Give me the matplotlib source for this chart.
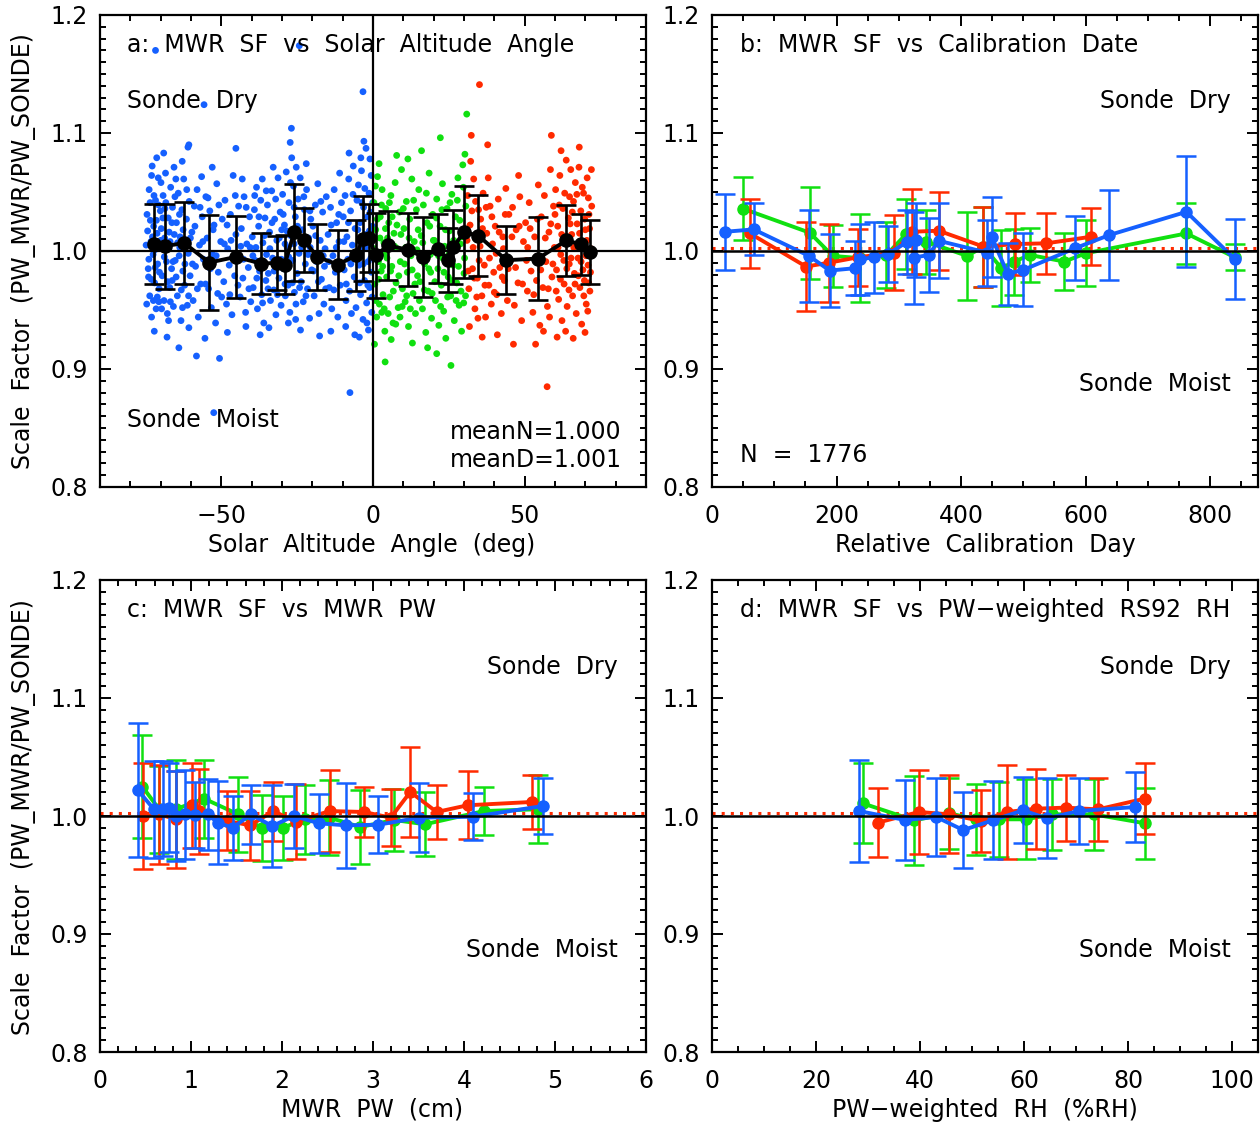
import numpy as np
import matplotlib
matplotlib.use("Agg")
import matplotlib.pyplot as plt
from matplotlib.ticker import MultipleLocator, FormatStrFormatter

plt.rcParams['font.family'] = ['DejaVu Sans']
plt.rcParams['font.size'] = 17

BLUE = '#1560FF'
GREEN = '#10E010'
RED = '#FF2A00'

# ---------------- panel a: scatter (thinned) ----------------
blue_pts = [
    (-74.5, 1.031), (-74.1, 0.985), (-73.8, 1.052), (-73.6, 0.962), (-73.2, 1.008), (-73.0, 0.944),
    (-72.8, 1.072), (-72.5, 0.997), (-72.3, 1.021), (-72.0, 0.973), (-71.7, 1.043), (-71.5, 0.951),
    (-71.2, 1.015), (-71.0, 0.989), (-70.8, 1.062), (-70.5, 0.968), (-70.3, 1.003), (-70.1, 1.034),
    (-74.8, 1.005), (-73.4, 1.026), (-72.1, 0.932), (-71.3, 1.079), (-70.6, 0.957), (-74.0, 0.978),
    (-71.9, 1.001),
    (-69.8, 1.019), (-69.5, 0.979), (-69.2, 1.047), (-68.9, 0.958), (-68.7, 1.011), (-68.4, 1.066),
    (-68.1, 0.991), (-67.8, 0.947), (-67.5, 1.028), (-67.3, 1.002), (-67.0, 0.969), (-66.7, 1.054),
    (-66.4, 0.985), (-66.1, 1.037), (-65.8, 0.953), (-65.5, 1.014), (-65.2, 0.992), (-69.0, 1.083),
    (-67.9, 0.927), (-66.9, 1.008), (-65.6, 1.071), (-68.6, 1.036), (-66.2, 0.975),
    (-64.8, 1.024), (-64.5, 0.962), (-64.2, 1.049), (-63.9, 0.996), (-63.6, 1.012), (-63.3, 0.941),
    (-63.0, 1.035), (-62.7, 0.983), (-62.4, 1.061), (-62.1, 0.971), (-61.8, 1.006), (-61.5, 1.027),
    (-61.2, 0.954), (-60.9, 0.998), (-60.6, 1.042), (-60.3, 0.979), (-64.0, 0.918), (-62.9, 1.076),
    (-61.0, 1.088), (-63.7, 1.003), (-60.7, 0.935),
    (-74.3, 1.017), (-73.9, 0.993), (-73.5, 1.041), (-73.1, 0.976), (-72.7, 1.012), (-72.4, 0.958),
    (-72.2, 1.047), (-71.8, 0.986), (-71.4, 1.026), (-71.1, 0.961), (-70.7, 1.039), (-70.4, 0.982),
    (-70.0, 1.009), (-69.7, 0.951), (-69.3, 1.028), (-68.8, 0.995), (-68.3, 1.041), (-67.7, 0.974),
    (-67.2, 1.016), (-66.8, 0.957), (-66.3, 1.024), (-65.9, 0.991), (-65.3, 1.046), (-64.9, 0.978),
    (-64.4, 1.007), (-63.8, 1.031), (-63.2, 0.967), (-62.6, 1.018), (-62.0, 0.989), (-61.4, 1.052),
    (-60.8, 0.962), (-60.2, 1.011), (-74.6, 0.955), (-73.0, 1.064), (-69.9, 1.058), (-67.4, 0.941),
    (-65.0, 1.061), (-62.8, 0.952),
    (-71.7, 1.170), (-55.7, 1.124), (-52.5, 0.863), (-24.3, 1.174), (-3.3, 1.135), (-7.6, 0.880),
    (-26.9, 1.104), (-60.7, 1.090), (-45.2, 1.087),
    (-59.7, 1.016), (-59.3, 0.958), (-58.9, 1.038), (-58.5, 0.987), (-58.0, 1.052), (-57.6, 0.944),
    (-57.2, 1.005), (-56.8, 0.972), (-56.3, 1.029), (-55.9, 0.993), (-55.4, 0.926), (-55.1, 1.046),
    (-58.2, 0.911), (-56.5, 1.063),
    (-54.7, 1.011), (-54.2, 0.968), (-53.8, 1.034), (-53.3, 0.952), (-52.9, 0.997), (-52.4, 1.022),
    (-51.9, 0.939), (-51.5, 1.057), (-51.0, 0.982), (-50.6, 0.909), (-50.2, 1.008), (-53.0, 1.071),
    (-51.2, 0.964),
    (-49.7, 1.027), (-49.2, 0.974), (-48.8, 1.043), (-48.3, 0.955), (-47.9, 1.002), (-47.4, 0.988),
    (-47.0, 1.031), (-46.5, 0.946), (-46.1, 1.064), (-45.6, 0.979), (-45.2, 1.014), (-48.0, 0.931),
    (-46.8, 1.009),
    (-44.7, 0.993), (-44.3, 1.038), (-43.8, 0.961), (-43.4, 1.019), (-42.9, 0.977), (-42.5, 1.046),
    (-42.0, 0.948), (-41.6, 1.006), (-41.1, 0.986), (-40.7, 1.029), (-40.3, 0.957), (-43.1, 1.061),
    (-41.9, 0.936), (-40.5, 1.003),
    (-59.5, 0.989), (-58.7, 1.021), (-57.9, 0.968), (-57.0, 1.037), (-56.1, 1.008), (-55.2, 0.972),
    (-54.4, 1.045), (-53.6, 0.985), (-52.7, 1.018), (-51.7, 0.996), (-50.8, 1.039), (-49.9, 0.961),
    (-49.0, 1.006), (-48.1, 1.022), (-47.2, 0.963), (-46.3, 0.994), (-45.4, 1.047), (-44.5, 0.971),
    (-43.6, 1.004), (-42.7, 0.993), (-41.8, 1.037), (-40.9, 0.968),
    (-39.8, 1.012), (-39.5, 0.969), (-39.1, 1.035), (-38.8, 0.992), (-38.4, 1.054), (-38.1, 0.951),
    (-37.7, 1.021), (-37.4, 0.983), (-37.0, 1.043), (-36.7, 0.963), (-36.3, 1.007), (-36.0, 0.939),
    (-35.6, 1.028), (-35.3, 0.975), (-38.6, 1.003), (-37.2, 0.929), (-36.5, 1.061), (-35.1, 0.997),
    (-34.8, 1.039), (-34.5, 0.981), (-34.1, 1.016), (-33.8, 0.958), (-33.4, 1.051), (-33.1, 0.994),
    (-32.7, 0.967), (-32.4, 1.027), (-32.0, 0.946), (-31.7, 1.009), (-31.3, 1.062), (-31.0, 0.977),
    (-30.6, 1.033), (-30.3, 0.954), (-34.3, 0.935), (-32.9, 1.071), (-31.5, 0.989), (-30.1, 1.018),
    (-29.8, 1.048), (-29.5, 0.985), (-29.2, 1.022), (-28.9, 0.962), (-28.6, 1.067), (-28.3, 1.003),
    (-28.0, 0.971), (-27.7, 1.041), (-27.4, 0.948), (-27.1, 1.013), (-26.8, 1.079), (-26.5, 0.992),
    (-26.2, 1.055), (-25.9, 0.965), (-25.6, 1.029), (-25.3, 1.071), (-25.0, 0.981), (-29.0, 1.006),
    (-27.9, 0.939), (-26.0, 1.037), (-27.3, 1.092), (-25.4, 0.955),
    (-39.6, 0.996), (-39.0, 1.047), (-38.3, 0.977), (-37.6, 1.029), (-37.0, 0.991), (-36.4, 0.956),
    (-35.8, 1.013), (-35.2, 1.051), (-34.6, 0.968), (-34.0, 1.002), (-33.3, 1.024), (-32.6, 0.983),
    (-32.1, 1.044), (-31.5, 0.963), (-30.9, 1.011), (-30.2, 0.993), (-29.6, 1.031), (-29.0, 0.972),
    (-28.4, 1.017), (-27.8, 0.995), (-27.2, 1.058), (-26.6, 0.973), (-26.0, 1.006), (-25.5, 0.942),
    (-24.9, 1.021), (-24.2, 0.969), (-23.5, 1.003), (-22.8, 1.046), (-22.1, 0.962), (-21.4, 0.997),
    (-20.8, 1.034),
    (-24.7, 1.044), (-24.4, 0.998), (-24.0, 1.062), (-23.7, 0.974), (-23.3, 1.018), (-23.0, 0.957),
    (-22.6, 1.035), (-22.3, 0.989), (-21.9, 1.052), (-21.6, 0.968), (-21.2, 1.011), (-20.9, 0.943),
    (-20.5, 1.027), (-20.2, 0.984), (-23.9, 0.933), (-22.0, 1.074), (-20.7, 1.003),
    (-19.8, 1.021), (-19.4, 0.962), (-19.0, 1.039), (-18.6, 0.991), (-18.2, 1.057), (-17.8, 0.947),
    (-17.4, 1.009), (-17.0, 0.976), (-16.6, 1.033), (-16.2, 0.955), (-15.8, 1.002), (-15.4, 1.046),
    (-17.6, 0.928), (-16.0, 0.987),
    (-14.8, 1.014), (-14.4, 0.969), (-14.0, 1.037), (-13.6, 0.951), (-13.2, 0.996), (-12.8, 1.052),
    (-12.4, 0.982), (-12.0, 1.024), (-11.6, 0.944), (-11.2, 1.008), (-10.8, 0.971), (-10.4, 1.041),
    (-13.9, 0.932), (-11.0, 1.066),
    (-9.8, 1.029), (-9.5, 0.984), (-9.2, 1.047), (-8.9, 0.958), (-8.6, 1.012), (-8.3, 0.993),
    (-8.0, 1.061), (-7.7, 0.966), (-7.4, 1.034), (-7.1, 0.947), (-6.8, 1.005), (-6.5, 1.072),
    (-6.2, 0.978), (-5.9, 1.019), (-5.6, 0.952), (-5.3, 1.043), (-9.0, 0.936), (-7.9, 1.083),
    (-6.0, 0.929), (-5.2, 0.998),
    (-4.8, 1.056), (-4.6, 0.988), (-4.3, 1.024), (-4.1, 0.963), (-3.8, 1.068), (-3.6, 1.001),
    (-3.3, 0.942), (-3.1, 1.037), (-2.8, 0.975), (-2.6, 1.014), (-2.3, 1.087), (-2.1, 0.956),
    (-1.8, 1.029), (-1.6, 0.991), (-1.3, 1.049), (-1.1, 0.969), (-0.8, 1.007), (-0.6, 1.064),
    (-0.4, 0.948), (-0.2, 1.021), (-4.5, 0.927), (-3.0, 1.093), (-1.5, 0.933), (-0.5, 0.982),
    (-2.5, 1.003), (-1.0, 1.078), (-3.9, 1.011), (-0.3, 0.961),
    (-19.6, 0.983), (-18.9, 1.013), (-18.0, 0.974), (-17.2, 1.042), (-16.4, 0.996), (-15.6, 0.968),
    (-14.6, 0.991), (-13.8, 1.022), (-12.9, 0.967), (-12.1, 1.003), (-11.3, 1.031), (-10.5, 0.989),
    (-9.6, 1.008), (-8.8, 0.972), (-8.1, 1.024), (-7.3, 0.989), (-6.6, 1.048), (-5.8, 0.996),
    (-5.0, 1.018), (-4.4, 0.973), (-3.7, 1.041), (-3.2, 0.989), (-2.7, 1.053), (-2.2, 1.009),
    (-1.7, 0.971), (-1.2, 1.017), (-0.7, 0.994), (-0.1, 1.041), (-4.0, 1.079), (-2.0, 0.939),
    (-0.9, 1.033),
]

green_pts = [
    (0.3, 1.041), (0.6, 0.972), (0.9, 1.018), (1.2, 0.944), (1.5, 1.063), (1.8, 0.991), (2.1, 0.955),
    (2.4, 1.029), (2.7, 0.983), (3.0, 1.052), (3.3, 0.963), (3.6, 1.007), (3.9, 0.932), (4.2, 1.036),
    (4.5, 0.978), (4.8, 1.011), (0.5, 0.921), (2.0, 1.074), (4.0, 0.906), (3.8, 0.998), (1.0, 0.996),
    (0.8, 1.055), (2.9, 0.948),
    (5.2, 1.024), (5.5, 0.961), (5.9, 1.047), (6.2, 0.987), (6.6, 0.939), (6.9, 1.015), (7.3, 1.058),
    (7.6, 0.973), (8.0, 1.002), (8.3, 0.952), (8.7, 1.033), (9.0, 0.991), (9.4, 1.069), (9.7, 0.968),
    (6.0, 0.925), (7.8, 1.081), (8.9, 0.944), (5.7, 1.003),
    (10.2, 1.019), (10.6, 0.957), (11.0, 1.042), (11.3, 0.982), (11.7, 0.936), (12.1, 1.027),
    (12.5, 0.996), (12.8, 1.061), (13.2, 0.964), (13.6, 1.008), (14.0, 0.947), (14.3, 1.035),
    (14.7, 0.979), (11.5, 1.078), (13.0, 0.922), (14.5, 1.001), (10.8, 1.003),
    (15.1, 1.052), (15.5, 0.974), (15.9, 1.013), (16.3, 0.951), (16.6, 1.039), (17.0, 0.989),
    (17.4, 0.931), (17.8, 1.024), (18.2, 0.966), (18.5, 1.066), (18.9, 0.997), (19.3, 0.943),
    (19.7, 1.031), (16.0, 1.085), (18.0, 0.918), (19.0, 0.982),
    (20.2, 1.009), (20.6, 0.958), (21.0, 1.044), (21.4, 0.985), (21.7, 0.937), (22.1, 1.021),
    (22.5, 0.971), (22.9, 1.057), (23.3, 0.949), (23.6, 1.004), (24.0, 0.926), (24.4, 1.036),
    (24.8, 0.978), (22.2, 1.096), (25.7, 0.903), (21.0, 0.913), (23.0, 0.994),
    (25.2, 1.017), (25.6, 0.962), (26.0, 1.048), (26.4, 0.988), (26.8, 0.941), (27.2, 1.029),
    (27.6, 0.973), (28.0, 1.062), (28.4, 0.954), (28.8, 1.006), (29.2, 0.932), (29.6, 1.073),
    (30.0, 0.981), (30.3, 1.082), (30.6, 1.038), (30.9, 1.116), (29.9, 0.956), (27.0, 1.003),
    (0.4, 1.002), (0.9, 0.958), (1.4, 1.027), (1.9, 0.976), (2.3, 1.011), (2.8, 1.039), (3.2, 0.987),
    (3.7, 0.951), (4.1, 1.019), (4.6, 0.994), (5.0, 0.947), (5.4, 1.041), (5.8, 0.983), (6.3, 1.029),
    (6.7, 0.966), (7.1, 1.004), (7.5, 0.938), (7.9, 1.022), (8.5, 0.979), (9.2, 1.014), (9.6, 0.953),
    (10.0, 1.036), (10.4, 0.989), (11.1, 0.962), (11.9, 1.011), (12.3, 0.951), (12.9, 0.984),
    (13.4, 1.043), (13.8, 0.972), (14.9, 1.018), (15.3, 0.958), (15.7, 0.994), (16.4, 1.007),
    (16.9, 0.967), (17.6, 1.049), (18.4, 0.985), (18.7, 1.021), (19.5, 0.964), (19.9, 1.009),
    (20.4, 0.974), (20.9, 1.028), (21.6, 0.996), (22.3, 0.953), (22.7, 1.035), (23.4, 0.982),
    (23.9, 1.018), (24.6, 0.961), (25.0, 0.997), (25.4, 1.041), (26.2, 0.975), (26.6, 1.009),
    (27.4, 0.958), (27.8, 1.043), (28.2, 0.987), (28.6, 1.026), (29.0, 0.966), (29.4, 1.012),
    (29.8, 1.054), (30.2, 0.994), (30.5, 0.962),
]

red_pts = [
    (31.2, 1.047), (31.6, 0.968), (32.0, 1.022), (32.4, 1.098), (32.8, 0.985), (33.2, 1.061),
    (33.6, 0.951), (34.0, 1.013), (34.4, 0.977), (34.8, 1.035), (35.1, 1.141), (31.8, 0.936),
    (33.0, 1.003), (34.6, 0.943), (32.2, 1.076), (35.0, 0.992),
    (35.5, 1.027), (35.9, 0.962), (36.3, 1.049), (36.7, 0.988), (37.1, 0.944), (37.5, 1.015),
    (37.8, 1.090), (38.2, 0.971), (38.6, 1.038), (39.0, 0.955), (39.4, 1.006), (39.8, 0.982),
    (36.0, 0.927), (38.0, 1.062),
    (40.3, 1.021), (40.8, 0.963), (41.3, 1.044), (41.8, 0.986), (42.3, 0.947), (42.8, 1.012),
    (43.3, 0.975), (43.8, 1.053), (44.3, 0.958), (44.8, 1.031), (41.0, 0.929), (43.0, 1.002),
    (45.4, 0.992), (46.0, 1.037), (46.6, 0.954), (47.2, 1.018), (47.8, 0.973), (48.4, 1.046),
    (49.0, 0.941), (49.6, 1.008), (46.3, 0.921), (48.0, 1.064),
    (50.3, 1.024), (50.9, 0.966), (51.5, 1.041), (52.1, 0.983), (52.7, 0.948), (53.3, 1.012),
    (53.9, 0.975), (54.5, 1.056), (55.0, 0.937), (57.4, 0.885), (51.0, 1.003), (53.6, 0.921),
    (55.5, 1.029), (56.0, 0.969), (56.5, 1.047), (57.0, 0.991), (57.5, 0.953), (58.0, 1.016),
    (58.5, 1.069), (58.8, 1.098), (59.0, 0.978), (59.5, 1.038), (56.2, 0.932), (58.2, 0.944),
    (59.8, 1.003),
    (60.2, 1.052), (60.5, 0.984), (60.9, 1.021), (61.2, 0.959), (61.6, 1.064), (61.9, 0.997),
    (62.3, 0.941), (62.6, 1.036), (63.0, 0.972), (63.3, 1.009), (63.7, 1.077), (64.0, 0.953),
    (64.4, 1.028), (64.7, 0.989), (65.2, 1.069), (60.7, 0.927), (62.0, 1.085), (63.5, 0.932),
    (64.8, 1.046),
    (65.5, 1.014), (65.8, 0.962), (66.1, 1.042), (66.4, 0.981), (66.7, 1.058), (67.0, 0.947),
    (67.3, 1.023), (67.6, 0.994), (67.9, 1.071), (68.2, 0.969), (68.5, 1.034), (68.8, 0.938),
    (69.1, 1.006), (69.4, 1.049), (69.7, 0.975), (70.0, 1.018), (70.3, 0.955), (70.6, 1.062),
    (70.9, 0.988), (71.2, 1.031), (71.5, 0.966), (71.8, 1.002), (72.0, 1.069), (66.0, 0.926),
    (68.0, 1.088), (69.9, 0.931), (71.0, 1.045), (67.1, 1.005), (69.2, 0.984), (70.8, 0.949),
    (31.0, 1.009), (31.4, 0.983), (32.6, 1.034), (33.4, 0.977), (33.8, 1.042), (34.2, 0.961),
    (35.3, 1.004), (36.1, 1.019), (36.9, 0.971), (37.3, 1.037), (38.4, 0.994), (39.2, 1.029),
    (40.0, 0.965), (40.6, 0.998), (41.6, 1.016), (42.6, 0.978), (43.6, 1.031), (44.6, 0.985),
    (45.8, 1.012), (47.0, 0.986), (48.2, 1.021), (49.3, 0.972), (50.6, 0.992), (51.8, 1.019),
    (53.0, 0.963), (54.2, 1.027), (55.3, 0.984), (56.8, 1.011), (57.8, 0.968), (58.6, 1.023),
    (59.3, 0.989), (60.0, 1.031), (60.4, 0.966), (61.0, 1.003), (61.4, 1.039), (61.8, 0.976),
    (62.2, 1.014), (62.9, 0.992), (63.2, 1.049), (63.9, 0.985), (64.2, 1.011), (64.6, 0.967),
    (65.0, 1.023), (65.3, 0.994), (65.7, 1.033), (66.2, 1.003), (66.6, 0.972), (67.2, 1.048),
    (67.7, 0.979), (68.1, 1.015), (68.6, 0.991), (69.0, 1.054), (69.5, 0.962), (69.8, 1.027),
    (70.2, 0.996), (70.5, 1.009), (71.1, 0.973), (71.4, 1.019), (71.7, 0.982), (72.1, 1.038),
]

# panel a: binned means (black)
sza_bin = [-72.3, -68.6, -62.2, -54.0, -45.2, -36.9, -31.6, -29.1, -26.0, -22.9, -18.3, -11.6,
           -5.5, -3.4, -1.4, 0.9, 5.0, 11.4, 16.6, 21.5, 24.8, 26.5, 30.0, 34.7, 44.0, 54.4,
           63.7, 68.7, 71.5]
sf_bin = [1.0061, 1.0042, 1.0067, 0.9902, 0.9950, 0.9894, 0.9899, 0.9885, 1.0159, 1.0095,
          0.9950, 0.9885, 0.9964, 1.0103, 1.0109, 0.9964, 1.0047, 1.0011, 0.9950, 1.0020,
          0.9922, 1.0034, 1.0159, 1.0131, 0.9922, 0.9936, 1.0089, 1.0056, 0.9992]
sf_bin_err = [0.034, 0.036, 0.035, 0.040, 0.035, 0.026, 0.023, 0.025, 0.041, 0.027, 0.028,
              0.029, 0.030, 0.036, 0.029, 0.036, 0.029, 0.031, 0.034, 0.029, 0.027, 0.031,
              0.039, 0.034, 0.029, 0.035, 0.030, 0.026, 0.027]

# ---------------- panel b: calibration day ----------------
b_green_day = [49, 157, 194, 237, 280, 312, 344, 410, 436, 465, 485, 511, 566, 600, 762, 840]
b_green_sf = [1.036, 1.0155, 0.9958, 0.994, 0.9966, 1.0144, 1.0079, 0.9958, 1.0037, 0.9854,
              0.991, 0.9966, 0.991, 0.998, 1.0149, 0.9946]
b_green_err = [0.027, 0.039, 0.026, 0.037, 0.028, 0.030, 0.027, 0.037, 0.034, 0.032, 0.028,
               0.023, 0.024, 0.028, 0.026, 0.011]

b_red_day = [61, 151, 188, 234, 292, 321, 364, 436, 487, 537, 609]
b_red_sf = [1.0149, 0.9868, 0.9901, 0.9946, 0.9986, 1.0163, 1.0172, 1.0037, 1.0059, 1.0065, 1.0121]
b_red_err = [0.029, 0.038, 0.033, 0.024, 0.032, 0.036, 0.033, 0.034, 0.026, 0.026, 0.024]

b_blue_day = [21, 67, 156, 189, 229, 237, 260, 283, 314, 327, 324, 348, 364, 442, 449, 475, 500,
              583, 638, 762, 840]
b_blue_sf = [1.0163, 1.0183, 0.9958, 0.9834, 0.9854, 0.993, 0.9946, 0.9975, 1.0079, 1.0093,
             0.9944, 0.9966, 1.0087, 0.9986, 1.0121, 0.9806, 0.984, 1.0023, 1.0135, 1.0332, 0.993]
b_blue_err = [0.032, 0.022, 0.039, 0.031, 0.023, 0.030, 0.030, 0.024, 0.027, 0.031, 0.039,
              0.031, 0.032, 0.028, 0.034, 0.026, 0.031, 0.027, 0.038, 0.047, 0.034]

# ---------------- panel c: MWR PW ----------------
c_green_pw = [0.465, 0.65, 0.83, 1.144, 1.52, 1.775, 2.01, 2.25, 2.52, 2.86, 3.235, 3.57, 4.22, 4.81]
c_green_sf = [1.025, 1.0057, 1.0057, 1.0147, 1.0014, 0.9901, 0.9901, 0.9972, 0.9986, 0.9907,
              0.9966, 0.993, 1.0042, 1.0057]
c_green_err = [0.044, 0.037, 0.042, 0.033, 0.032, 0.028, 0.027, 0.029, 0.032, 0.031, 0.026,
               0.027, 0.020, 0.029]

c_red_pw = [0.473, 0.65, 0.84, 1.006, 1.085, 1.40, 1.65, 1.905, 2.15, 2.525, 2.90, 3.195, 3.41,
            3.70, 4.04, 4.75]
c_red_sf = [1.0, 1.0014, 0.9972, 1.0091, 1.0042, 0.9958, 0.9921, 1.0042, 0.9952, 1.0042, 1.0034,
            0.9986, 1.0204, 1.0034, 1.0091, 1.0119]
c_red_err = [0.045, 0.042, 0.041, 0.036, 0.036, 0.025, 0.029, 0.025, 0.032, 0.035, 0.021, 0.024,
             0.038, 0.023, 0.029, 0.023]

c_blue_pw = [0.414, 0.592, 0.69, 0.757, 0.83, 0.939, 1.045, 1.183, 1.294, 1.46, 1.657, 1.893,
             2.13, 2.406, 2.70, 3.057, 3.51, 4.10, 4.87]
c_blue_sf = [1.0221, 1.0057, 1.0062, 1.0071, 1.0, 1.0014, 1.0006, 1.0014, 0.9943, 0.9901, 1.0014,
             0.9915, 1.0, 0.9938, 0.9921, 0.9926, 0.9986, 0.9994, 1.0085]
c_blue_err = [0.057, 0.041, 0.040, 0.038, 0.038, 0.038, 0.028, 0.030, 0.035, 0.027, 0.025, 0.035,
              0.027, 0.025, 0.036, 0.024, 0.029, 0.020, 0.024]

# ---------------- panel d: PW-weighted RH ----------------
d_green_rh = [29.0, 38.9, 45.6, 50.8, 55.2, 60.4, 65.4, 73.4, 83.3]
d_green_sf = [1.0107, 0.9963, 1.0023, 0.9972, 0.9972, 0.9972, 1.0014, 1.0014, 0.9938]
d_green_err = [0.034, 0.038, 0.030, 0.030, 0.032, 0.034, 0.030, 0.030, 0.030]

d_red_rh = [31.9, 39.8, 45.6, 51.7, 56.7, 62.4, 68.0, 74.2, 83.2]
d_red_sf = [0.9944, 1.0034, 1.0014, 0.9958, 1.0034, 1.0062, 1.0071, 1.0056, 1.0147]
d_red_err = [0.029, 0.036, 0.033, 0.026, 0.040, 0.034, 0.028, 0.027, 0.030]

d_blue_rh = [28.2, 37.2, 43.1, 48.3, 54.0, 59.8, 64.4, 70.5, 81.4]
d_blue_sf = [1.0042, 0.9966, 0.9992, 0.9881, 0.9963, 1.0048, 0.998, 1.0042, 1.0076]
d_blue_err = [0.043, 0.034, 0.033, 0.032, 0.033, 0.028, 0.034, 0.028, 0.030]

mean_dotted = 1.0025

# ---------------- figure ----------------
W, H = 1260, 1126
fig = plt.figure(figsize=(W / 100, H / 100), dpi=100)


def px_axes(l, t, r, b):
    return fig.add_axes([l / W, 1 - b / H, (r - l) / W, (b - t) / H])


ax_a = px_axes(100, 15, 646, 487)
ax_b = px_axes(712, 15, 1258, 487)
ax_c = px_axes(100, 580, 646, 1052)
ax_d = px_axes(712, 580, 1258, 1052)


def style(ax, xlim, major, minor):
    ax.set_xlim(*xlim)
    ax.set_ylim(0.8, 1.2)
    ax.xaxis.set_major_locator(MultipleLocator(major))
    ax.xaxis.set_minor_locator(MultipleLocator(minor))
    ax.yaxis.set_major_locator(MultipleLocator(0.1))
    ax.yaxis.set_minor_locator(MultipleLocator(0.01))
    ax.yaxis.set_major_formatter(FormatStrFormatter('%.1f'))
    ax.tick_params(which='both', direction='in', top=True, right=True, width=1.4, colors='black')
    ax.tick_params(which='major', length=8, labelsize=17)
    ax.tick_params(which='minor', length=4)
    ax.tick_params(axis='x', pad=12)
    ax.tick_params(axis='y', pad=9)
    for s in ax.spines.values():
        s.set_linewidth(1.6)


style(ax_a, (-90, 90), 50, 10)
style(ax_b, (0, 877), 200, 50)
style(ax_c, (0, 6), 1, 0.2)
style(ax_d, (0, 105), 20, 5)

# panel a
for pts, col in ((blue_pts, BLUE), (green_pts, GREEN), (red_pts, RED)):
    xs, ys = zip(*pts)
    ax_a.scatter(xs, ys, s=24, color=col, edgecolors='none', zorder=2)
ax_a.axhline(1.0, color='black', lw=1.6, zorder=3)
ax_a.axvline(0.0, color='black', lw=1.6, zorder=3)
ax_a.errorbar(sza_bin, sf_bin, yerr=sf_bin_err, color='black', marker='o', ms=9.5, lw=2.8,
              elinewidth=1.9, capsize=7.5, capthick=1.9, zorder=4)

# panels b-d
series = [
    (ax_b, [(b_green_day, b_green_sf, b_green_err, GREEN), (b_red_day, b_red_sf, b_red_err, RED),
            (b_blue_day, b_blue_sf, b_blue_err, BLUE)]),
    (ax_c, [(c_green_pw, c_green_sf, c_green_err, GREEN), (c_red_pw, c_red_sf, c_red_err, RED),
            (c_blue_pw, c_blue_sf, c_blue_err, BLUE)]),
    (ax_d, [(d_green_rh, d_green_sf, d_green_err, GREEN), (d_red_rh, d_red_sf, d_red_err, RED),
            (d_blue_rh, d_blue_sf, d_blue_err, BLUE)]),
]
for ax, groups in series:
    ax.axhline(mean_dotted, color=RED, lw=2.2, ls=(0, (1, 2)), zorder=1)
    for i, (x, y, e, col) in enumerate(groups):
        ax.errorbar(x, y, yerr=e, color=col, marker='o', ms=8, lw=2.8, elinewidth=1.8,
                    capsize=7, capthick=1.8, zorder=2 + i)
    ax.axhline(1.0, color='black', lw=1.8, zorder=6)

# texts
txt = dict(fontsize=17, va='center')
ax_a.text(0.049, 0.936, 'a:  MWR  SF  vs  Solar  Altitude  Angle', transform=ax_a.transAxes, **txt)
ax_a.text(0.049, 0.818, 'Sonde  Dry', transform=ax_a.transAxes, **txt)
ax_a.text(0.049, 0.142, 'Sonde  Moist', transform=ax_a.transAxes, **txt)
ax_a.text(0.956, 0.1165, 'meanN=1.000', transform=ax_a.transAxes, ha='right', **txt)
ax_a.text(0.956, 0.057, 'meanD=1.001', transform=ax_a.transAxes, ha='right', **txt)

ax_b.text(0.051, 0.936, 'b:  MWR  SF  vs  Calibration  Date', transform=ax_b.transAxes, **txt)
ax_b.text(0.9505, 0.818, 'Sonde  Dry', transform=ax_b.transAxes, ha='right', **txt)
ax_b.text(0.9505, 0.218, 'Sonde  Moist', transform=ax_b.transAxes, ha='right', **txt)
ax_b.text(0.051, 0.068, 'N  =  1776', transform=ax_b.transAxes, **txt)

ax_c.text(0.049, 0.936, 'c:  MWR  SF  vs  MWR  PW', transform=ax_c.transAxes, **txt)
ax_c.text(0.949, 0.816, 'Sonde  Dry', transform=ax_c.transAxes, ha='right', **txt)
ax_c.text(0.949, 0.216, 'Sonde  Moist', transform=ax_c.transAxes, ha='right', **txt)

ax_d.text(0.051, 0.936, 'd:  MWR  SF  vs  PW\u2212weighted  RS92  RH', transform=ax_d.transAxes, **txt)
ax_d.text(0.9505, 0.816, 'Sonde  Dry', transform=ax_d.transAxes, ha='right', **txt)
ax_d.text(0.9505, 0.216, 'Sonde  Moist', transform=ax_d.transAxes, ha='right', **txt)

ylab = 'Scale  Factor  (PW_MWR/PW_SONDE)'
fig.text(24 / W, 1 - 251 / H, ylab, rotation=90, ha='center', va='center', fontsize=17)
fig.text(24 / W, 1 - 817 / H, ylab, rotation=90, ha='center', va='center', fontsize=17)
fig.text(372 / W, 1 - 545 / H, 'Solar  Altitude  Angle  (deg)', ha='center', va='center', fontsize=17)
fig.text(985 / W, 1 - 545 / H, 'Relative  Calibration  Day', ha='center', va='center', fontsize=17)
fig.text(372 / W, 1 - 1110 / H, 'MWR  PW  (cm)', ha='center', va='center', fontsize=17)
fig.text(985 / W, 1 - 1110 / H, 'PW\u2212weighted  RH  (%RH)', ha='center', va='center', fontsize=17)

fig.savefig('out.png', dpi=100)
